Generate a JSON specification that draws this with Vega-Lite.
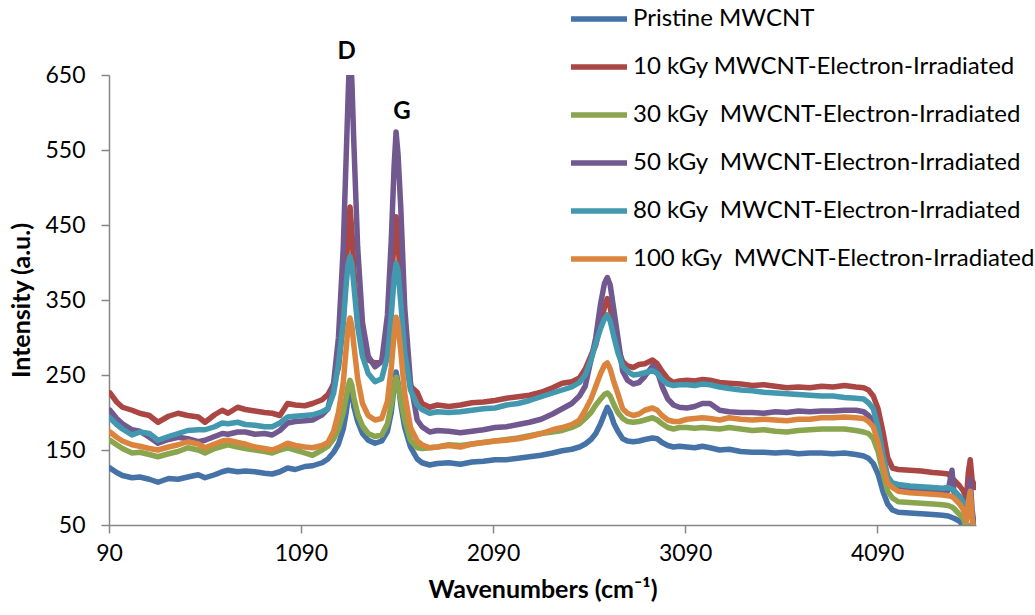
{
 "$schema": "https://vega.github.io/schema/vega-lite/v6.json",
 "width": 867, "height": 450,
 "autosize": {"type": "none"},
 "padding": {"left": 109, "top": 75, "right": 59, "bottom": 90},
 "background": "white",
 "config": {"view": {"stroke": null}, "font": "Lato"},
 "encoding": {
  "x": {"field": "x", "type": "quantitative", "scale": {"domain": [90, 4605], "nice": false, "zero": false},
   "axis": {"values": [90, 1090, 2090, 3090, 4090], "format": "d", "grid": false, "domainColor": "#868686", "tickColor": "#868686", "domainWidth": 1.5, "tickWidth": 1.5, "tickSize": 8, "labelFontSize": 23, "labelColor": "black", "labelPadding": 9, "labelFlush": false, "title": "Wavenumbers (cm⁻¹)", "titleFontSize": 25, "titleFontWeight": "bold", "titleColor": "black", "titlePadding": 12}},
  "y": {"field": "y", "type": "quantitative", "scale": {"domain": [50, 650], "nice": false, "zero": false},
   "axis": {"values": [50, 150, 250, 350, 450, 550, 650], "format": "d", "grid": false, "domainColor": "#868686", "tickColor": "#868686", "domainWidth": 1.5, "tickWidth": 1.5, "tickSize": 8, "labelFontSize": 23, "labelColor": "black", "labelPadding": 16, "labelFlush": false, "title": "Intensity (a.u.)", "titleFontSize": 25, "titleFontWeight": "bold", "titleColor": "black", "titlePadding": 10}}
 },
 "layer": [
  {
   "data": {"values": [
    {"x":95,"p":126,"k10":226,"k30":163,"k50":203,"k80":193,"k100":174},
    {"x":130,"p":120,"k10":214,"k30":157,"k50":192,"k80":184,"k100":167},
    {"x":160,"p":116,"k10":207,"k30":152,"k50":185,"k80":178,"k100":162},
    {"x":210,"p":113,"k10":203,"k30":146,"k50":177,"k80":170,"k100":157},
    {"x":250,"p":114,"k10":199,"k30":147,"k50":175,"k80":174,"k100":155},
    {"x":300,"p":111,"k10":196,"k30":144,"k50":167,"k80":172,"k100":152},
    {"x":345,"p":107,"k10":187,"k30":141,"k50":159,"k80":163,"k100":150},
    {"x":400,"p":112,"k10":195,"k30":145,"k50":164,"k80":168,"k100":154},
    {"x":450,"p":111,"k10":199,"k30":148,"k50":167,"k80":172,"k100":157},
    {"x":500,"p":114,"k10":196,"k30":153,"k50":165,"k80":176,"k100":161},
    {"x":555,"p":117,"k10":194,"k30":150,"k50":161,"k80":177,"k100":158},
    {"x":590,"p":113,"k10":187,"k30":146,"k50":163,"k80":177,"k100":153},
    {"x":640,"p":117,"k10":197,"k30":152,"k50":168,"k80":181,"k100":158},
    {"x":680,"p":121,"k10":203,"k30":155,"k50":172,"k80":186,"k100":162},
    {"x":710,"p":123,"k10":199,"k30":157,"k50":171,"k80":185,"k100":163},
    {"x":760,"p":121,"k10":207,"k30":154,"k50":174,"k80":187,"k100":160},
    {"x":800,"p":122,"k10":204,"k30":152,"k50":174,"k80":184,"k100":158},
    {"x":850,"p":121,"k10":202,"k30":150,"k50":171,"k80":183,"k100":154},
    {"x":900,"p":119,"k10":200,"k30":148,"k50":172,"k80":181,"k100":152},
    {"x":940,"p":118,"k10":199,"k30":146,"k50":170,"k80":181,"k100":150},
    {"x":980,"p":121,"k10":196,"k30":150,"k50":176,"k80":186,"k100":154},
    {"x":1020,"p":126,"k10":212,"k30":153,"k50":186,"k80":194,"k100":159},
    {"x":1060,"p":124,"k10":210,"k30":150,"k50":188,"k80":195,"k100":156},
    {"x":1110,"p":128,"k10":209,"k30":146,"k50":189,"k80":196,"k100":154},
    {"x":1150,"p":129,"k10":212,"k30":143,"k50":190,"k80":197,"k100":153},
    {"x":1200,"p":133,"k10":217,"k30":150,"k50":197,"k80":201,"k100":156},
    {"x":1230,"p":138,"k10":224,"k30":155,"k50":205,"k80":205,"k100":160},
    {"x":1260,"p":147,"k10":238,"k30":165,"k50":240,"k80":226,"k100":175},
    {"x":1285,"p":158,"k10":260,"k30":178,"k50":300,"k80":265,"k100":200},
    {"x":1310,"p":178,"k10":320,"k30":200,"k50":420,"k80":320,"k100":240},
    {"x":1325,"p":200,"k10":390,"k30":220,"k50":540,"k80":370,"k100":285},
    {"x":1335,"p":220,"k10":440,"k30":235,"k50":620,"k80":398,"k100":315},
    {"x":1345,"p":232,"k10":474,"k30":243,"k50":690,"k80":408,"k100":326},
    {"x":1355,"p":225,"k10":440,"k30":236,"k50":640,"k80":398,"k100":315},
    {"x":1365,"p":208,"k10":390,"k30":220,"k50":560,"k80":370,"k100":290},
    {"x":1385,"p":188,"k10":320,"k30":198,"k50":420,"k80":315,"k100":245},
    {"x":1410,"p":172,"k10":285,"k30":182,"k50":320,"k80":275,"k100":212},
    {"x":1440,"p":163,"k10":270,"k30":172,"k50":275,"k80":252,"k100":196},
    {"x":1475,"p":159,"k10":266,"k30":168,"k50":261,"k80":241,"k100":190},
    {"x":1510,"p":162,"k10":268,"k30":170,"k50":268,"k80":245,"k100":192},
    {"x":1540,"p":175,"k10":300,"k30":185,"k50":330,"k80":275,"k100":215},
    {"x":1560,"p":200,"k10":370,"k30":210,"k50":430,"k80":330,"k100":260},
    {"x":1575,"p":235,"k10":430,"k30":235,"k50":530,"k80":380,"k100":305},
    {"x":1585,"p":254,"k10":461,"k30":247,"k50":574,"k80":399,"k100":327},
    {"x":1595,"p":240,"k10":430,"k30":238,"k50":545,"k80":390,"k100":318},
    {"x":1610,"p":210,"k10":360,"k30":215,"k50":470,"k80":345,"k100":280},
    {"x":1630,"p":180,"k10":290,"k30":190,"k50":340,"k80":280,"k100":225},
    {"x":1660,"p":154,"k10":235,"k30":163,"k50":240,"k80":230,"k100":180},
    {"x":1695,"p":138,"k10":227,"k30":153,"k50":190,"k80":210,"k100":162},
    {"x":1720,"p":133,"k10":212,"k30":152,"k50":181,"k80":204,"k100":157},
    {"x":1760,"p":130,"k10":207,"k30":153,"k50":174,"k80":199,"k100":153},
    {"x":1800,"p":132,"k10":210,"k30":154,"k50":176,"k80":201,"k100":154},
    {"x":1860,"p":133,"k10":208,"k30":157,"k50":175,"k80":200,"k100":156},
    {"x":1920,"p":131,"k10":210,"k30":156,"k50":173,"k80":201,"k100":154},
    {"x":1980,"p":134,"k10":213,"k30":158,"k50":175,"k80":203,"k100":158},
    {"x":2040,"p":135,"k10":214,"k30":160,"k50":177,"k80":205,"k100":160},
    {"x":2100,"p":137,"k10":216,"k30":162,"k50":180,"k80":206,"k100":162},
    {"x":2160,"p":137,"k10":219,"k30":164,"k50":181,"k80":210,"k100":163},
    {"x":2220,"p":139,"k10":221,"k30":166,"k50":184,"k80":212,"k100":165},
    {"x":2280,"p":141,"k10":223,"k30":169,"k50":187,"k80":216,"k100":168},
    {"x":2340,"p":143,"k10":227,"k30":172,"k50":191,"k80":221,"k100":172},
    {"x":2400,"p":146,"k10":233,"k30":174,"k50":198,"k80":226,"k100":177},
    {"x":2450,"p":149,"k10":239,"k30":176,"k50":205,"k80":230,"k100":180},
    {"x":2500,"p":151,"k10":241,"k30":180,"k50":212,"k80":234,"k100":184},
    {"x":2540,"p":154,"k10":246,"k30":185,"k50":222,"k80":240,"k100":190},
    {"x":2570,"p":158,"k10":258,"k30":192,"k50":235,"k80":250,"k100":203},
    {"x":2600,"p":164,"k10":276,"k30":200,"k50":270,"k80":270,"k100":218},
    {"x":2625,"p":172,"k10":290,"k30":210,"k50":300,"k80":292,"k100":235},
    {"x":2650,"p":185,"k10":318,"k30":218,"k50":345,"k80":312,"k100":252},
    {"x":2670,"p":198,"k10":340,"k30":224,"k50":372,"k80":325,"k100":263},
    {"x":2685,"p":207,"k10":352,"k30":226,"k50":380,"k80":330,"k100":266},
    {"x":2700,"p":200,"k10":340,"k30":222,"k50":370,"k80":322,"k100":258},
    {"x":2720,"p":185,"k10":310,"k30":210,"k50":335,"k80":300,"k100":240},
    {"x":2740,"p":175,"k10":285,"k30":200,"k50":300,"k80":280,"k100":225},
    {"x":2765,"p":165,"k10":268,"k30":192,"k50":255,"k80":262,"k100":205},
    {"x":2790,"p":162,"k10":262,"k30":188,"k50":243,"k80":255,"k100":199},
    {"x":2820,"p":161,"k10":260,"k30":187,"k50":238,"k80":250,"k100":196},
    {"x":2850,"p":162,"k10":264,"k30":188,"k50":240,"k80":251,"k100":198},
    {"x":2880,"p":164,"k10":265,"k30":190,"k50":248,"k80":253,"k100":203},
    {"x":2920,"p":166,"k10":270,"k30":193,"k50":262,"k80":256,"k100":206},
    {"x":2945,"p":165,"k10":265,"k30":190,"k50":255,"k80":252,"k100":203},
    {"x":2970,"p":160,"k10":255,"k30":185,"k50":235,"k80":244,"k100":196},
    {"x":3000,"p":156,"k10":245,"k30":180,"k50":218,"k80":238,"k100":190},
    {"x":3030,"p":154,"k10":240,"k30":178,"k50":210,"k80":236,"k100":188},
    {"x":3060,"p":155,"k10":242,"k30":180,"k50":207,"k80":237,"k100":188},
    {"x":3100,"p":154,"k10":243,"k30":180,"k50":206,"k80":237,"k100":191},
    {"x":3140,"p":153,"k10":242,"k30":179,"k50":208,"k80":236,"k100":192},
    {"x":3180,"p":155,"k10":244,"k30":180,"k50":212,"k80":238,"k100":193},
    {"x":3220,"p":153,"k10":243,"k30":179,"k50":212,"k80":237,"k100":192},
    {"x":3270,"p":150,"k10":240,"k30":178,"k50":203,"k80":234,"k100":190},
    {"x":3320,"p":151,"k10":239,"k30":180,"k50":201,"k80":232,"k100":193},
    {"x":3380,"p":148,"k10":238,"k30":178,"k50":200,"k80":230,"k100":191},
    {"x":3440,"p":147,"k10":236,"k30":176,"k50":200,"k80":229,"k100":190},
    {"x":3500,"p":147,"k10":237,"k30":177,"k50":199,"k80":227,"k100":191},
    {"x":3560,"p":146,"k10":235,"k30":175,"k50":201,"k80":226,"k100":190},
    {"x":3620,"p":147,"k10":233,"k30":174,"k50":200,"k80":225,"k100":189},
    {"x":3680,"p":145,"k10":234,"k30":176,"k50":202,"k80":224,"k100":191},
    {"x":3740,"p":146,"k10":233,"k30":177,"k50":201,"k80":223,"k100":191},
    {"x":3800,"p":146,"k10":235,"k30":178,"k50":202,"k80":222,"k100":193},
    {"x":3860,"p":145,"k10":234,"k30":178,"k50":202,"k80":222,"k100":193},
    {"x":3920,"p":146,"k10":236,"k30":178,"k50":203,"k80":220,"k100":194},
    {"x":3980,"p":144,"k10":234,"k30":176,"k50":203,"k80":219,"k100":193},
    {"x":4020,"p":142,"k10":233,"k30":174,"k50":201,"k80":218,"k100":192},
    {"x":4045,"p":139,"k10":230,"k30":172,"k50":196,"k80":213,"k100":188},
    {"x":4070,"p":132,"k10":222,"k30":165,"k50":188,"k80":205,"k100":181},
    {"x":4095,"p":118,"k10":205,"k30":148,"k50":168,"k80":180,"k100":160},
    {"x":4120,"p":95,"k10":175,"k30":120,"k50":140,"k80":145,"k100":130},
    {"x":4145,"p":78,"k10":140,"k30":95,"k50":110,"k80":115,"k100":106},
    {"x":4170,"p":70,"k10":126,"k30":86,"k50":102,"k80":106,"k100":100},
    {"x":4200,"p":67,"k10":124,"k30":81,"k50":98,"k80":104,"k100":95},
    {"x":4260,"p":66,"k10":123,"k30":80,"k50":98,"k80":102,"k100":93},
    {"x":4320,"p":65,"k10":122,"k30":79,"k50":97,"k80":101,"k100":92},
    {"x":4380,"p":64,"k10":120,"k30":78,"k50":96,"k80":100,"k100":91},
    {"x":4430,"p":63,"k10":119,"k30":77,"k50":96,"k80":99,"k100":90},
    {"x":4460,"p":62,"k10":118,"k30":76,"k50":96,"k80":100,"k100":89},
    {"x":4480,"p":60,"k10":112,"k30":74,"k50":123,"k80":98,"k100":88},
    {"x":4490,"p":59,"k10":110,"k30":72,"k50":94,"k80":96,"k100":86},
    {"x":4520,"p":55,"k10":102,"k30":64,"k50":84,"k80":88,"k100":78},
    {"x":4540,"p":48,"k10":95,"k30":58,"k50":78,"k80":80,"k100":70},
    {"x":4555,"p":40,"k10":85,"k30":45,"k50":60,"k80":60,"k100":55},
    {"x":4565,"p":35,"k10":120,"k30":40,"k50":90,"k80":70,"k100":80},
    {"x":4575,"p":40,"k10":137,"k30":50,"k50":110,"k80":90,"k100":95},
    {"x":4585,"p":30,"k10":110,"k30":40,"k50":70,"k80":60,"k100":60},
    {"x":4600,"p":30,"k10":100,"k30":30,"k50":40,"k80":30,"k100":30}
   ]},
   "transform": [{"fold": ["p", "k10", "k30", "k50", "k80", "k100"], "as": ["series", "y"]}],
   "mark": {"type": "line", "strokeWidth": 5.5, "clip": true, "strokeCap": "round", "strokeJoin": "round"},
   "encoding": {
    "color": {"field": "series", "type": "nominal",
     "scale": {"domain": ["p", "k10", "k30", "k50", "k80", "k100"], "range": ["#4572A7", "#AA4643", "#89A54E", "#71588F", "#4198AF", "#DB843D"]},
     "legend": {"title": null, "orient": "none", "legendX": 459, "legendY": -87, "padding": 0,
      "symbolType": "stroke", "symbolSize": 3136, "symbolStrokeWidth": 5.5,
      "labelFontSize": 24, "labelColor": "black", "labelOffset": 3, "rowPadding": 5, "labelLimit": 500,
      "labelExpr": "datum.value == 'p' ? 'Pristine MWCNT' : datum.value == 'k10' ? '10 kGy MWCNT-Electron-Irradiated' : datum.value == 'k30' ? '30 kGy\u00a0 MWCNT-Electron-Irradiated' : datum.value == 'k50' ? '50 kGy\u00a0 MWCNT-Electron-Irradiated' : datum.value == 'k80' ? '80 kGy\u00a0 MWCNT-Electron-Irradiated' : '100 kGy\u00a0 MWCNT-Electron-Irradiated'"}}
   }
  },
  {
   "data": {"values": [{"x": 1327, "y": 681, "t": "D"}, {"x": 1616, "y": 601, "t": "G"}]},
   "mark": {"type": "text", "fontWeight": "bold", "fontSize": 24, "clip": false, "baseline": "middle", "align": "center", "color": "black"},
   "encoding": {"text": {"field": "t"}}
  }
 ]
}
